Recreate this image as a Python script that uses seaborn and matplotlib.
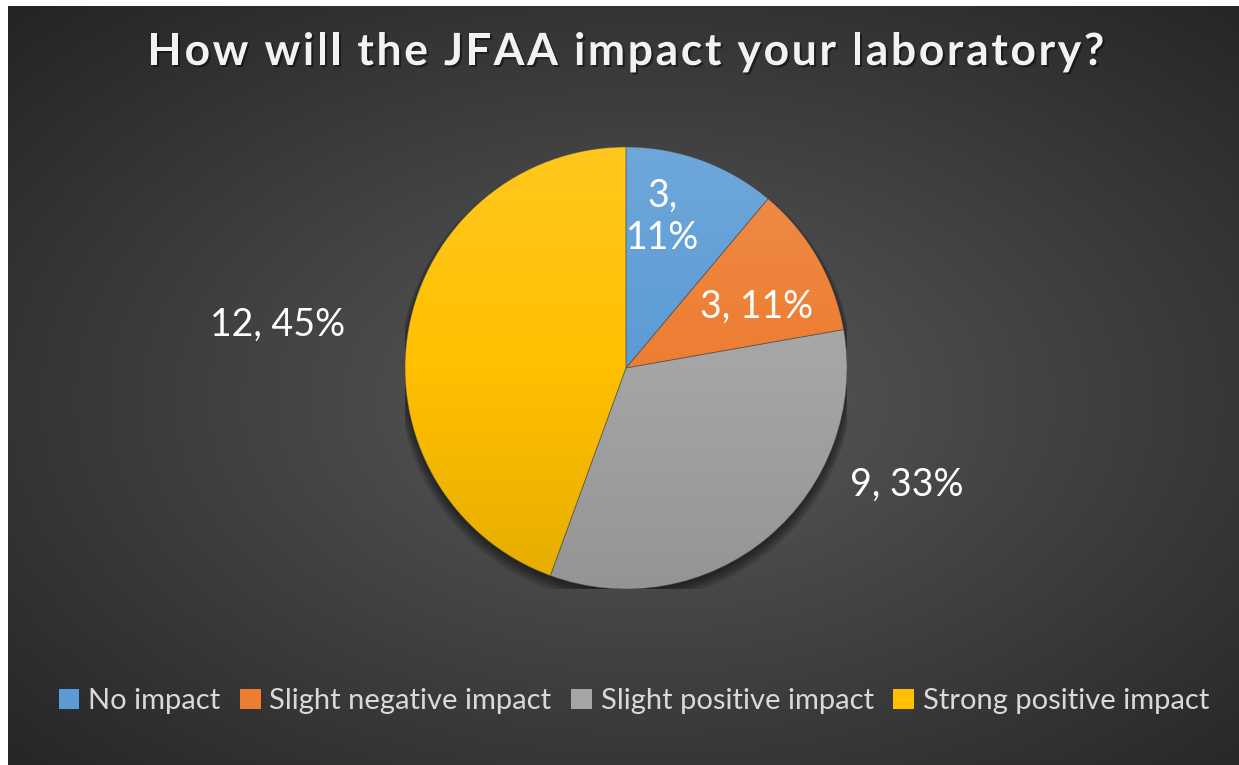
import numpy as np
import matplotlib
matplotlib.use("Agg")
import matplotlib.pyplot as plt
import seaborn as sns
from matplotlib.patches import Patch, Circle
from matplotlib.colors import to_rgb, LinearSegmentedColormap
import matplotlib.patheffects as pe

# ---- data ----
categories = ["No impact", "Slight negative impact", "Slight positive impact", "Strong positive impact"]
counts = [3, 3, 9, 12]
pct_labels = ["11%", "11%", "33%", "45%"]
colors = ["#5B9BD5", "#ED7D31", "#A5A5A5", "#FFC000"]
title = "How will the JFAA impact your laboratory?"

sns.set_theme(style="white")
plt.rcParams['font.family'] = ['Lato', 'DejaVu Sans']

W, H = 1239, 765
fig = plt.figure(figsize=(W / 100, H / 100), dpi=100, facecolor="white")

# ---- radial gradient background ----
bg = fig.add_axes([8 / W, 0, (W - 8) / W, (H - 6) / H])
yy, xx = np.mgrid[0:1:300j, 0:1:480j]
d = np.sqrt(((xx - 0.52) / 0.62) ** 2 + ((yy - 0.52) / 0.62) ** 2)
d = np.clip(d / d.max(), 0, 1)
c0 = np.array(to_rgb("#5a5a5a"))
c1 = np.array(to_rgb("#242424"))
img = c0[None, None, :] * (1 - d[..., None]) + c1[None, None, :] * d[..., None]
bg.imshow(img, extent=[0, 1, 0, 1], aspect="auto", interpolation="bilinear")
bg.set_axis_off()

# ---- pie ----
cx, cy, r = 626, 368, 221
ax = fig.add_axes([(cx - r) / W, (H - cy - r) / H, 2 * r / W, 2 * r / H])
ax.set_xlim(-1, 1)
ax.set_ylim(-1, 1)
ax.set_aspect("equal")
ax.set_axis_off()

# soft shadow
for k in range(6):
    ax.add_patch(Circle((0, -0.012 - 0.004 * k), 1.0 + 0.006 * k, color="black",
                        alpha=0.10, lw=0, zorder=0))

wedges, _ = ax.pie(counts, colors=colors, startangle=90, counterclock=False,
                   radius=1.0, wedgeprops=dict(linewidth=0.6, edgecolor=(0.3, 0.3, 0.3, 0.5)))

for w, col in zip(wedges, colors):
    base = np.array(to_rgb(col))
    top = base + (1 - base) * 0.12
    bot = base * 0.90
    cmap = LinearSegmentedColormap.from_list("g", [bot, base, top])
    grad = np.linspace(0, 1, 256)[:, None]
    im = ax.imshow(grad, extent=[-1, 1, -1, 1], origin="lower", cmap=cmap,
                   aspect="auto", zorder=w.get_zorder() - 0.01)
    im.set_clip_path(w)
    w.set_facecolor("none")

ax.set_xlim(-1, 1)
ax.set_ylim(-1, 1)

# data labels
label_pos = [(0.167, 0.683), (0.593, 0.276), (1.27, -0.53), (-1.575, 0.195)]
label_text = [f"{counts[0]},\n{pct_labels[0]}"] + [f"{c}, {p}" for c, p in zip(counts[1:], pct_labels[1:])]
for (x, y), t in zip(label_pos, label_text):
    ax.text(x, y, t, ha="center", va="center", color="white", fontsize=27,
            linespacing=1.2, zorder=10)

# ---- title (with letter spacing) ----
renderer = fig.canvas.get_renderer()
tkw = dict(fontsize=32, fontweight="bold", color="#f2f2f2")

def text_w(s):
    t = fig.text(0, 0, s + "|", **tkw)
    w1 = t.get_window_extent(renderer).width
    t.remove()
    t = fig.text(0, 0, "|", **tkw)
    w2 = t.get_window_extent(renderer).width
    t.remove()
    return w1 - w2

tracking = 2.6
natural = text_w(title)
total = natural + tracking * (len(title) - 1)
x0 = 626 - total / 2
ty = 1 - 52 / H
shadow = [pe.withSimplePatchShadow(offset=(1.5, -1.5), shadow_rgbFace="black", alpha=0.45)]
for i, ch in enumerate(title):
    if ch == " ":
        continue
    xpix = x0 + text_w(title[:i]) + tracking * i
    fig.text(xpix / W, ty, ch, ha="left", va="center", path_effects=shadow, **tkw)

# ---- legend ----
handles = [Patch(facecolor=c, edgecolor="none") for c in colors]
leg = fig.legend(handles, categories, loc="center", bbox_to_anchor=(634 / W, 1 - 701 / H),
                 ncol=4, frameon=False, fontsize=21, labelcolor="#d9d9d9",
                 handlelength=0.7, handleheight=0.7, handletextpad=0.3,
                 columnspacing=0.68)

fig.savefig("out.png", dpi=100, facecolor=fig.get_facecolor())
